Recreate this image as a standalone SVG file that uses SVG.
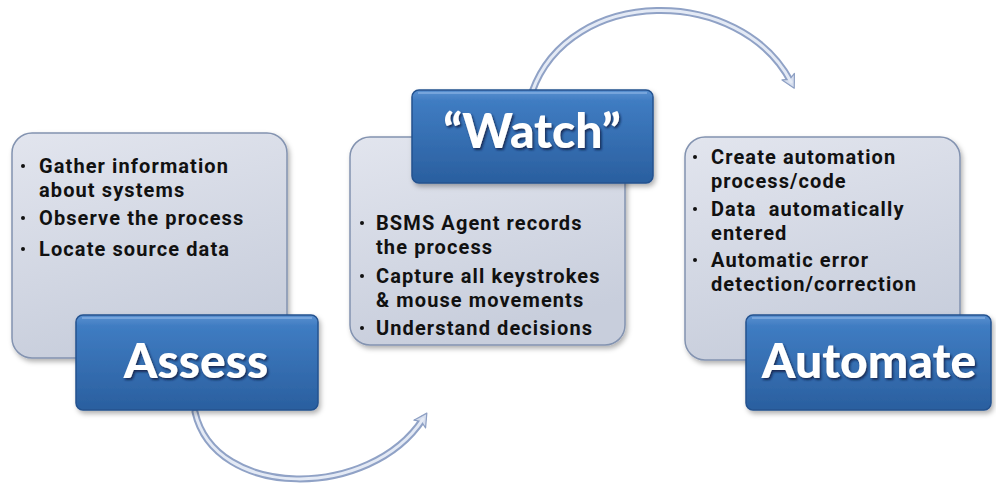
<svg xmlns="http://www.w3.org/2000/svg" width="996" height="483" viewBox="0 0 996 483">
<defs>
<linearGradient id="gGray" x1="0" y1="0" x2="0.3" y2="1">
<stop offset="0" stop-color="#e2e5ee"/>
<stop offset="1" stop-color="#c8cedc"/>
</linearGradient>
<linearGradient id="gBlue" x1="0" y1="0" x2="0" y2="1">
<stop offset="0" stop-color="#5b91d0"/>
<stop offset="0.12" stop-color="#3f7cc2"/>
<stop offset="1" stop-color="#2a5f9f"/>
</linearGradient>
<filter id="shadow" x="-10%" y="-10%" width="125%" height="130%">
<feDropShadow dx="2" dy="3" stdDeviation="2.5" flood-color="#000" flood-opacity="0.3"/>
</filter>
<filter id="tshadow" x="-10%" y="-20%" width="125%" height="150%">
<feDropShadow dx="1.5" dy="2" stdDeviation="1.2" flood-color="#0a1f40" flood-opacity="0.8"/>
</filter>
<marker id="head" viewBox="0 0 16 16" refX="8" refY="8" markerWidth="16" markerHeight="16" markerUnits="userSpaceOnUse" orient="auto">
<path d="M2 1 L15 8 L2 15 L5 8 Z" fill="#d6deee" stroke="#8d9fc3" stroke-width="1.2" stroke-linejoin="round"/>
</marker>
</defs>
<style>
.panel{fill:url(#gGray);stroke:#8393b0;stroke-width:1.5;filter:url(#shadow)}
.tag{fill:url(#gBlue);stroke:#24528f;stroke-width:1.5;filter:url(#shadow)}
.hi{fill:none;stroke:#8fb6e6;stroke-width:1.5;opacity:0.8}
.bt{font-family:Roboto,"Liberation Sans",sans-serif;font-weight:700;font-size:20px;fill:#111;letter-spacing:1.1px}
.dot{fill:#111}
.lbl{font-family:Lato,"Open Sans","Liberation Sans",sans-serif;font-weight:900;font-size:48px;fill:#fff;text-anchor:middle;filter:url(#tshadow)}
.tubeo{fill:none;stroke:#90a2c6;stroke-width:7;stroke-linecap:round}
.tubei{fill:none;stroke:#e4eaf5;stroke-width:3;stroke-linecap:round}
</style>
<g id="connectors">
<path class="tubeo" d="M195 412 C215 500 370 500 423 419" marker-end="url(#head)"/>
<path class="tubei" d="M195 412 C215 500 370 500 423 419"/>
<path class="tubeo" d="M532 92 C570 -15 740 -15 791 82" marker-end="url(#head)"/>
<path class="tubei" d="M532 92 C570 -15 740 -15 791 82"/>
</g>
<g id="assess">
<rect class="panel" x="12" y="133" width="275" height="225" rx="20"/>
<circle class="dot" cx="23" cy="166" r="2"/>
<text class="bt" x="39" y="173">Gather information</text>
<text class="bt" x="39" y="197">about systems</text>
<circle class="dot" cx="23" cy="218" r="2"/>
<text class="bt" x="39" y="225">Observe the process</text>
<circle class="dot" cx="23" cy="249" r="2"/>
<text class="bt" x="39" y="256">Locate source data</text>
<rect class="tag" x="76" y="315" width="242" height="95" rx="7"/>
<path class="hi" d="M82 318 H312"/>
<text class="lbl" x="196" y="378">Assess</text>
</g>
<g id="watch">
<rect class="panel" x="350" y="137" width="275" height="208" rx="20"/>
<rect class="tag" x="412" y="90" width="241" height="93" rx="7"/>
<path class="hi" d="M418 93 H647"/>
<text class="lbl" x="532" y="148">“Watch”</text>
<circle class="dot" cx="362" cy="223" r="2"/>
<text class="bt" x="376" y="230">BSMS Agent records</text>
<text class="bt" x="376" y="254">the process</text>
<circle class="dot" cx="362" cy="276" r="2"/>
<text class="bt" x="376" y="283">Capture all keystrokes</text>
<text class="bt" x="376" y="307">&amp; mouse movements</text>
<circle class="dot" cx="362" cy="328" r="2"/>
<text class="bt" x="376" y="335">Understand decisions</text>
</g>
<g id="automate">
<rect class="panel" x="685" y="137" width="275" height="223" rx="20"/>
<circle class="dot" cx="695" cy="157" r="2"/>
<text class="bt" x="711" y="164">Create automation</text>
<text class="bt" x="711" y="188">process/code</text>
<circle class="dot" cx="695" cy="209" r="2"/>
<text class="bt" x="711" y="216" style="white-space:pre">Data  automatically</text>
<text class="bt" x="711" y="240">entered</text>
<circle class="dot" cx="695" cy="260" r="2"/>
<text class="bt" x="711" y="267">Automatic error</text>
<text class="bt" x="711" y="291">detection/correction</text>
<rect class="tag" x="746" y="315" width="245" height="95" rx="7"/>
<path class="hi" d="M752 318 H985"/>
<text class="lbl" x="869" y="378">Automate</text>
</g>
</svg>
